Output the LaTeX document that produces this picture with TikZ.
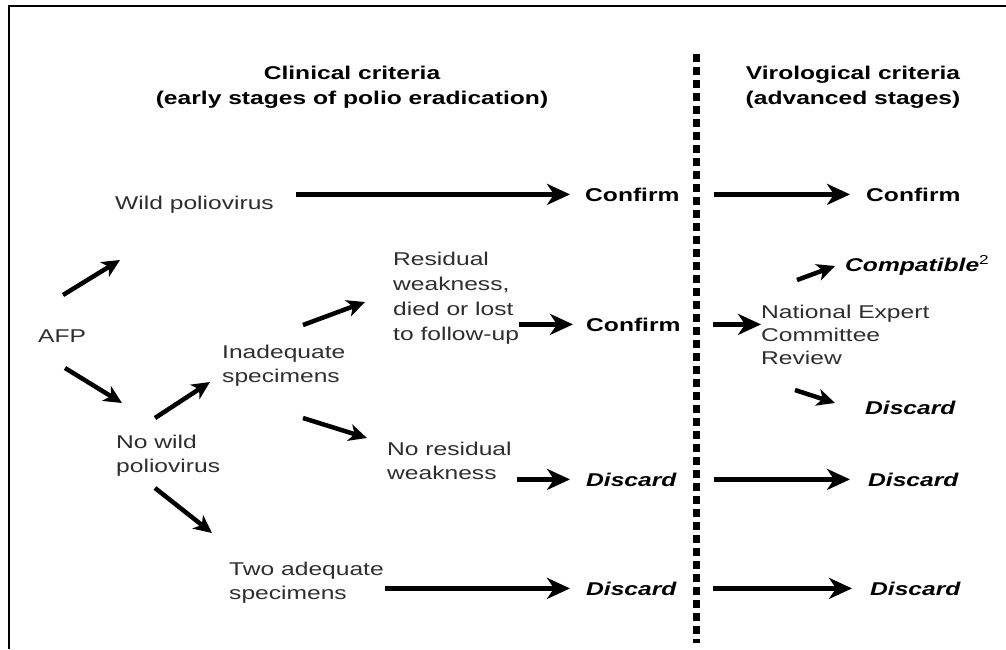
\documentclass[tikz,border=0pt]{standalone}
\usepackage{fontspec}
\setmainfont{Liberation Sans}[FakeStretch=1.33]
\usetikzlibrary{arrows.meta,positioning,calc}
\definecolor{ink}{gray}{0.18}
\tikzset{
  txt/.style={anchor=west,align=left,inner sep=0pt,text=ink,font=\fontsize{18.5}{24}\selectfont},
  hd/.style={align=center,inner sep=0pt,font=\fontsize{18.5}{25}\selectfont\bfseries},
  res/.style={anchor=base west,inner sep=0pt,font=\fontsize{18.5}{24}\selectfont\bfseries},
  dis/.style={res,font=\fontsize{18.5}{24}\selectfont\bfseries\itshape},
  arr/.style={-{Stealth[length=23pt,width=21pt,inset=7pt]},line width=5.5pt},
  sarr/.style={-{Stealth[length=18pt,width=17pt,inset=5pt]},line width=4.5pt},
}
\begin{document}
\begin{tikzpicture}[x=1pt,y=-1pt]
 \useasboundingbox (0,0) rectangle (1006,649);
 \draw[line width=2pt] (9,649)--(9,6)--(1006,6);
 \draw[line width=7pt,dash pattern=on 8pt off 5pt] (696,54)--(696,643);
 % headings
 \node[hd] (hclin) at (352,87) {Clinical criteria\\(early stages of polio eradication)};
 \node[hd] (hvir) at (853,87) {Virological criteria\\(advanced stages)};
 % left part
 \node[txt,anchor=base west] (afp) at (38,342) {AFP};
 \node[txt,anchor=base west] (wild) at (115,209) {Wild poliovirus};
 \node[txt] (nowild) at (116,456) {No wild\\poliovirus};
 \node[txt] (inadeq) at (222,366) {Inadequate\\specimens};
 \node[txt] (twoadeq) at (229,583) {Two adequate\\specimens};
 \node[txt,font=\fontsize{18.5}{25}\selectfont] (resid) at (393,298) {Residual\\weakness,\\died or lost\\to follow-up};
 \node[txt] (norest) at (387,461) {No residual\\weakness};
 \node[res] (conf1) at (585,201) {Confirm};
 \node[res] (conf3) at (586,331) {Confirm};
 \node[dis] (disc1) at (586,486) {Discard};
 \node[dis] (disc2) at (586,595) {Discard};
 % right part
 \node[res] (conf2) at (866,201) {Confirm};
 \node[txt,font=\fontsize{18.5}{23}\selectfont] (nec) at (761,335) {National Expert\\Committee\\Review};
 \node[dis] (compat) at (845,271) {Compatible\textsuperscript{\mdseries\upshape 2}};
 \node[dis] (disc3) at (865,414) {Discard};
 \node[dis] (disc4) at (868,486) {Discard};
 \node[dis] (disc5) at (870,595) {Discard};
 % free ends of the short arrows
 \coordinate (afpup) at (63,295);   \coordinate (wildin) at (120,260);
 \coordinate (afpdn) at (65,368);   \coordinate (nowildin) at (122,403);
 \coordinate (nwup) at (155,418);   \coordinate (inadeqin) at (210,382);
 \coordinate (nwdn) at (155,488);   \coordinate (twoin) at (212,533);
 \coordinate (inup) at (303,325);   \coordinate (residin) at (365,302);
 \coordinate (indn) at (303,418);   \coordinate (norestin) at (367,438);
 \coordinate (necup) at (797,280);  \coordinate (compatin) at (835,266);
 \coordinate (necdn) at (795,390);  \coordinate (disc3in) at (835,403);
 \draw[sarr] (afpup)--(wildin);
 \draw[sarr] (afpdn)--(nowildin);
 \draw[sarr] (nwup)--(inadeqin);
 \draw[sarr] (nwdn)--(twoin);
 \draw[sarr] (inup)--(residin);
 \draw[sarr] (indn)--(norestin);
 \draw[sarr] (necup)--(compatin);
 \draw[sarr] (necdn)--(disc3in);
 % long arrows
 \draw[arr,shorten <=22pt,shorten >=15pt] (wild.east |- conf1.west)--(conf1.west);
 \draw[arr,shorten >=13pt] (resid.east |- conf3.west)--(conf3.west);
 \draw[arr,shorten <=5pt,shorten >=16pt] (norest.east |- disc1.west)--(disc1.west);
 \draw[arr,shorten <=1pt,shorten >=16pt] (twoadeq.east |- disc2.west)--(disc2.west);
 \draw[arr,shorten <=34pt,shorten >=16pt] (conf1.east)--(conf2.west);
 \draw[arr,shorten <=32pt] (conf3.east)--(nec.west |- conf3.east);
 \draw[arr,shorten <=37pt,shorten >=18pt] (disc1.east)--(disc4.west);
 \draw[arr,shorten <=36pt,shorten >=18pt] (disc2.east)--(disc5.west |- disc2.east);
\end{tikzpicture}
\end{document}
